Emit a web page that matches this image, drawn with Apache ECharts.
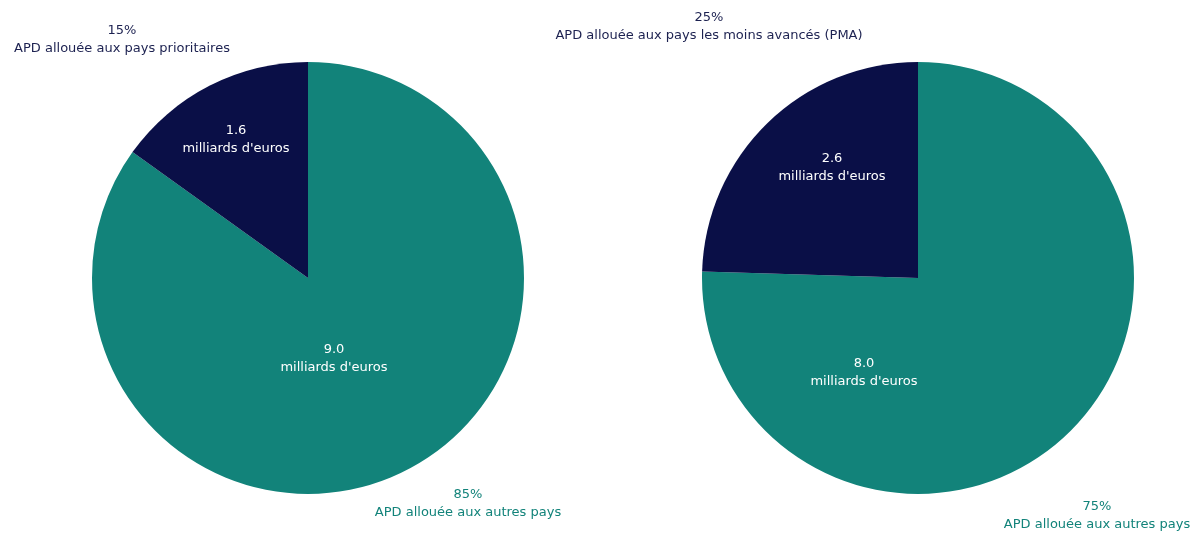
<!DOCTYPE html>
<html>
<head>
<meta charset="utf-8">
<script src="https://cdn.jsdelivr.net/npm/echarts@6/dist/echarts.min.js"></script>
<style>
  html, body { margin: 0; padding: 0; background: #ffffff; }
  #chart { width: 1195px; height: 533px; }
</style>
</head>
<body>
<div id="chart"></div>
<script>
// APD split (milliards d'euros)
const pieNames = [
  ['APD allouée aux autres pays', 'APD allouée aux pays prioritaires'],
  ['APD allouée aux autres pays', 'APD allouée aux pays les moins avancés (PMA)']
];
const pieValues = [
  [9.0, 1.6],
  [8.0, 2.6]
];
const unitLabel = "milliards d'euros";

// Layout: pie centres/radius and label anchors (pixels)
const TEAL = '#12837a';
const NAVY = '#0a0f47';
const FONT = 'DejaVu Sans';
const FONT_SIZE = 13;
const pieCenters = [[308, 278], [918, 278]];
const pieRadius = 216;
const innerLabelPos = [
  [[334, 359], [236, 140]],
  [[864, 373], [832, 168]]
];
const outerLabelPos = [
  [[468, 504], [122, 40]],
  [[1097, 516], [709, 27]]
];
const sliceColors = [TEAL, NAVY];
const outerTextColors = [TEAL, '#1c2150'];

function buildData(k) {
  return pieValues[k].map((v, i) => ({
    name: pieNames[k][i],
    value: v,
    itemStyle: { color: sliceColors[i] }
  }));
}

const series = [];
pieValues.forEach((vals, k) => {
  // slices with value labels inside
  series.push({
    type: 'pie',
    center: pieCenters[k],
    radius: pieRadius,
    startAngle: 90,
    clockwise: true,
    silent: true,
    animation: false,
    percentPrecision: 0,
    data: buildData(k),
    label: {
      show: true,
      position: 'inside',
      color: '#ffffff',
      fontFamily: FONT,
      fontSize: FONT_SIZE,
      lineHeight: 18,
      align: 'center',
      overflow: 'none',
      formatter: p => p.value.toFixed(1) + '\n' + unitLabel
    },
    labelLine: { show: false },
    labelLayout: p => {
      const pos = innerLabelPos[k][p.dataIndex];
      return { x: pos[0], y: pos[1], align: 'center', verticalAlign: 'middle' };
    }
  });
  // same slices (transparent) carrying share labels
  series.push({
    type: 'pie',
    center: pieCenters[k],
    radius: pieRadius,
    startAngle: 90,
    clockwise: true,
    silent: true,
    animation: false,
    percentPrecision: 0,
    data: buildData(k).map(d => Object.assign({}, d, { itemStyle: { color: 'rgba(0,0,0,0)' } })),
    label: {
      show: true,
      position: 'inside',
      fontFamily: FONT,
      fontSize: FONT_SIZE,
      lineHeight: 18,
      align: 'center',
      overflow: 'none',
      formatter: p => '{c' + p.dataIndex + '|' + p.percent + '%}\n{c' + p.dataIndex + '|' + p.name + '}',
      rich: {
        c0: { color: outerTextColors[0], fontFamily: FONT, fontSize: FONT_SIZE, lineHeight: 18, align: 'center' },
        c1: { color: outerTextColors[1], fontFamily: FONT, fontSize: FONT_SIZE, lineHeight: 18, align: 'center' }
      }
    },
    labelLine: { show: false },
    labelLayout: p => {
      const pos = outerLabelPos[k][p.dataIndex];
      return { x: pos[0], y: pos[1], align: 'center', verticalAlign: 'middle' };
    }
  });
});

const chart = echarts.init(document.getElementById('chart'), null, { renderer: 'canvas' });
chart.setOption({
  backgroundColor: '#ffffff',
  animation: false,
  series: series
});
</script>
</body>
</html>
